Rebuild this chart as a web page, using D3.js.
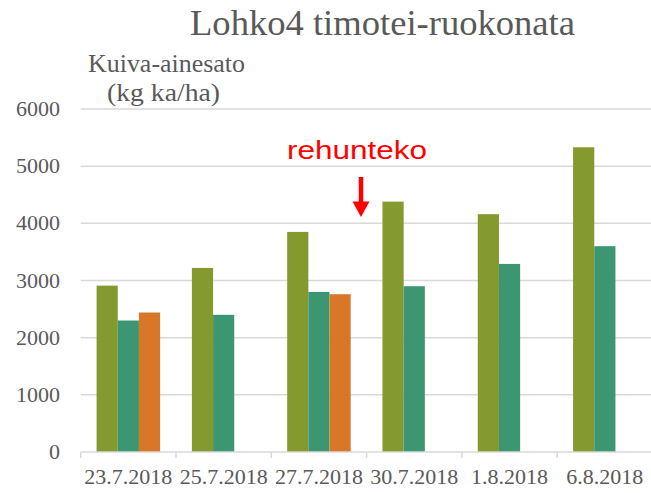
<!DOCTYPE html>
<html><head><meta charset="utf-8">
<script src="https://cdn.jsdelivr.net/npm/d3@7/dist/d3.min.js"></script>
<style>html,body{margin:0;padding:0;background:#fff;}</style>
</head><body><svg id="c" width="651" height="493"></svg>
<script>
const categories = ["23.7.2018","25.7.2018","27.7.2018","30.7.2018","1.8.2018","6.8.2018"];
const seriesNames = ["s1","s2","s3"];
const s1 = [2910, 3220, 3850, 4380, 4160, 5330];
const s2 = [2300, 2400, 2800, 2900, 3290, 3600];
const s3 = [2440, null, 2760, null, null, null];
const yTicks = [0,1000,2000,3000,4000,5000,6000];
const colors = ["#84992E","#3C9671","#D97728"];
const titleText = "Lohko4 timotei-ruokonata";
const yLabel1 = "Kuiva-ainesato";
const yLabel2 = "(kg ka/ha)";
const annotation = "rehunteko";

const svg = d3.select("#c");
const L = 80.7, R = 652.5, T = 109, B = 452;
const x = d3.scaleBand().domain(categories).range([L, R]).padding(0);
const bw = x.bandwidth();
const w = bw / 4.5;
const x1 = d3.scaleBand().domain(seriesNames).range([0.75*w, bw - 0.75*w]).padding(0);
const y = d3.scaleLinear().domain([0, 6000]).range([B, T]);
const gray = "#595959";

// gridlines
svg.append("g").selectAll("line").data(yTicks.filter(d=>d>0)).join("line")
  .attr("x1", L).attr("x2", R).attr("y1", d=>y(d)).attr("y2", d=>y(d))
  .attr("stroke", "#d9d9d9").attr("stroke-width", 1.5);

// y tick labels
svg.append("g").selectAll("text").data(yTicks).join("text")
  .attr("x", 60).attr("y", d=>y(d)+7).attr("text-anchor","end")
  .attr("font-family","Liberation Serif, serif").attr("font-size",22).attr("fill",gray)
  .text(d=>d);

// bars
const data = [s1,s2,s3];
const g = svg.append("g");
categories.forEach((c,i)=>{
  seriesNames.forEach((s,j)=>{
    const v = data[j][i];
    if (v == null) return;
    g.append("rect").attr("x", x(c)+x1(s)).attr("width", x1.bandwidth())
      .attr("y", y(v)).attr("height", y(0)-y(v)).attr("fill", colors[j]);
  });
});

// x axis
const xa = svg.append("g");
xa.append("line").attr("x1",L).attr("x2",R).attr("y1",B).attr("y2",B).attr("stroke","#d9d9d9").attr("stroke-width",1.5);
const edges = categories.map(c=>x(c)).concat([R]);
xa.selectAll("line.tk").data(edges).join("line").attr("class","tk")
  .attr("x1",d=>d).attr("x2",d=>d).attr("y1",B).attr("y2",B+6)
  .attr("stroke","#d9d9d9").attr("stroke-width",1.5);
xa.selectAll("text").data(categories).join("text")
  .attr("x", d=>x(d)+bw/2).attr("y", 484).attr("text-anchor","middle")
  .attr("font-family","Liberation Serif, serif").attr("font-size",22).attr("fill",gray)
  .text(d=>d);

// title
svg.append("text").attr("x",190).attr("y",35)
  .attr("font-family","Liberation Serif, serif").attr("font-size",35).attr("fill",gray)
  .attr("textLength",385).attr("lengthAdjust","spacingAndGlyphs").text(titleText);

// y label
svg.append("text").attr("x",88).attr("y",72)
  .attr("font-family","Liberation Serif, serif").attr("font-size",25).attr("fill",gray)
  .attr("textLength",157).attr("lengthAdjust","spacingAndGlyphs").text(yLabel1);
svg.append("text").attr("x",107).attr("y",101)
  .attr("font-family","Liberation Serif, serif").attr("font-size",25).attr("fill",gray)
  .attr("textLength",113).attr("lengthAdjust","spacingAndGlyphs").text(yLabel2);

// annotation
svg.append("text").attr("x",287).attr("y",159)
  .attr("font-family","Liberation Sans, Arial, sans-serif").attr("font-size",26).attr("fill","#ff0000")
  .attr("textLength",140).attr("lengthAdjust","spacingAndGlyphs").text(annotation);
svg.append("line").attr("x1",361).attr("x2",361).attr("y1",177).attr("y2",203)
  .attr("stroke","#ff0000").attr("stroke-width",4.5);
svg.append("path").attr("d","M352.5,201.5 L369.5,201.5 L361,217 Z").attr("fill","#ff0000");
</script></body></html>
